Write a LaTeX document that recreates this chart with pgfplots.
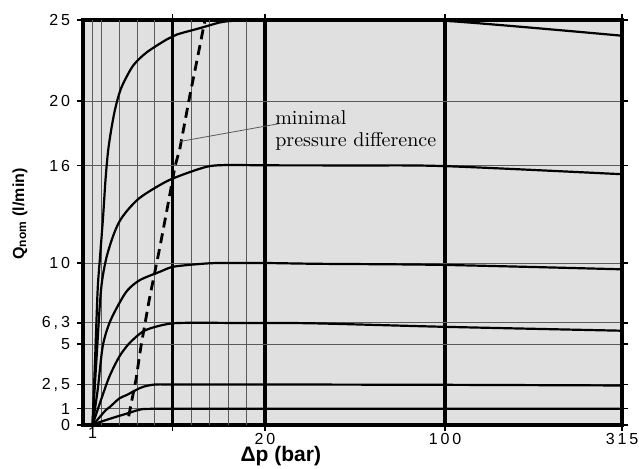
\documentclass[border=0pt]{standalone}
\usepackage{pgfplots}
\pgfplotsset{compat=1.18}
\usepackage{fontspec}
\setsansfont{Liberation Sans}
\newfontfamily\ticksf{Liberation Sans}[LetterSpace=18]
\definecolor{plotbg}{RGB}{224,224,224}
\definecolor{gridgray}{RGB}{90,90,90}

\begin{document}
\begin{tikzpicture}
\begin{axis}[
   scale only axis,
   width=269.5pt, height=202.5pt,
   % the chart's x scale is piecewise linear between 1, 10, 20, 100 and 315 bar
   x coord trafo/.code={\pgfmathparse{(#1<=10) ? ((#1-1)*8.911) : ((#1<=20) ? (80.2+(#1-10)*9.23) : ((#1<=100) ? (172.5+(#1-20)*2.25) : (352.5+(#1-100)*0.8233)))}},
   xmin=-0.066, xmax=315,
   ymin=0, ymax=25,
   axis background/.style={fill=plotbg},
   axis line style={line width=1.8pt},
   tick align=outside, tick pos=both,
   major tick length=3pt,
   tick style={black, line width=0.6pt},
   xtick={10,20,100,315},
   xticklabels={,20,100,315},
   xmajorgrids,
   x grid style={black, line width=1.8pt},
   extra x ticks={1,2,4,6,8,12,14,16,18},
   extra x tick labels={1},
   extra x tick style={major tick length=0pt, x grid style={gridgray, line width=0.5pt}},
   ytick={0,1,2.5,5,6.3,10,16,20,25},
   yticklabels={0,1,{2,5},5,{6,3},10,16,20,25},
   ymajorgrids,
   y grid style={gridgray, line width=0.5pt},
   ticklabel style={font=\ticksf\fontsize{8}{9}\selectfont},
   xticklabel style={yshift=2.5pt},
   /pgf/number format/assume math mode=true,
   xlabel={Δp (bar)},
   xlabel style={at={(axis description cs:0.367,-0.076)}, anchor=center, font=\sffamily\bfseries\fontsize{10.5}{12}\selectfont},
   ylabel={Q\textsubscript{nom} (l/min)},
   ylabel style={at={(axis description cs:-0.117,0.521)}, anchor=center, font=\sffamily\bfseries\fontsize{8}{10}\selectfont},
   curve/.style={black, line width=1.1pt, smooth},
 ]
 % Q_nom = 25
 \addplot[curve] coordinates {(1,0) (1.3,4.2) (1.58,8.35) (1.84,10.33) (2.18,12.79) (2.46,15.14) (2.74,16.86) (3.08,18.16) (3.47,19.33) (3.92,20.31) (4.42,21.05) (5.58,22.2) (7.08,23.0) (9.33,23.8) (10.43,24.1) (12.96,24.5) (15.12,24.85) (16.53,24.95) (18.4,25.0) (60,25.0) (100,24.95) (315,24.03)};
 % Q_nom = 16
 \addplot[curve] coordinates {(1,0) (1.45,4.1) (1.95,8.3) (2.51,10.2) (3.27,11.6) (4.01,12.55) (4.95,13.27) (6.25,14.0) (8.12,14.67) (10.07,15.23) (13.68,15.94) (16.2,16.05) (20,16.03) (60,16.02) (100,15.98) (315,15.48)};
 % Q_nom = 10
 \addplot[curve] coordinates {(1,0) (1.58,2.16) (2.14,4.83) (2.89,6.28) (4.01,7.52) (4.95,8.33) (6.33,8.95) (8.57,9.46) (10.08,9.77) (12.96,9.94) (15,10.0) (20,10.0) (44,9.95) (100,9.88) (315,9.61)};
 % Q_nom = 6,3
 \addplot[curve] coordinates {(1,0) (1.95,1.54) (2.89,2.98) (4.01,4.22) (5.13,5.04) (6.63,5.76) (8.12,6.07) (10.07,6.28) (12.96,6.31) (16.5,6.3) (20,6.3) (44,6.27) (100,6.06) (315,5.82)};
 % Q_nom = 2,5
 \addplot[curve] coordinates {(1,0) (1.39,0.22) (2.51,0.93) (2.96,1.12) (4.01,1.64) (4.84,1.85) (5.88,2.16) (6.70,2.36) (8.01,2.5) (10.07,2.5) (20,2.5) (100,2.48) (315,2.44)};
 % Q_nom = 1
 \addplot[curve] coordinates {(1,0) (1.39,0.1) (3.27,0.44) (5.13,0.75) (6.33,0.95) (8.12,1.0) (20,1.0) (315,1.0)};
 % minimal pressure difference
 \addplot[black, line width=1.4pt, dash pattern=on 5pt off 3pt] coordinates {(5.06,0.54) (5.88,2.8) (6.44,4.86) (7.37,7.74) (8.57,11.0) (9.50,13.7) (10.25,15.96) (10.79,17.1) (11.87,20.37) (12.60,22.42) (13.50,25.0)};

 \draw[gridgray, line width=0.4pt] (axis cs:10.79,17.5) -- (axis cs:26.2,18.6);
 \node[anchor=north west, inner sep=0pt, align=left, font=\fontsize{10}{11}\selectfont] at (axis cs:24.4,19.45) {minimal\\pressure difference};
\end{axis}
\pgfresetboundingbox
\path (-41.5pt,-21.5pt) rectangle (278pt,212.5pt);
\end{tikzpicture}
\end{document}
